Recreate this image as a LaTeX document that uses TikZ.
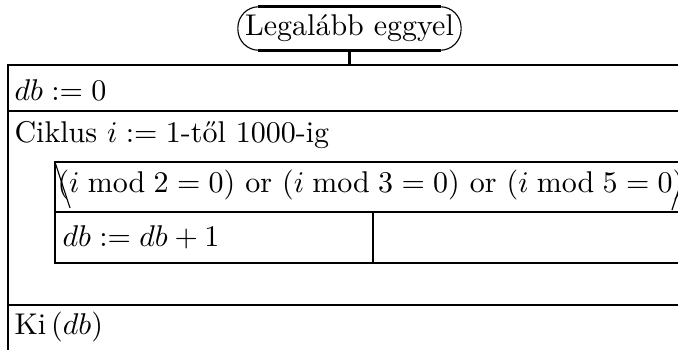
\RequirePackage{fix-cm}
\documentclass[tikz,border=0pt]{standalone}
\usepackage{amsmath}
\begin{document}
\begin{tikzpicture}[x=0.3584pt,y=-0.3584pt,
  every node/.style={font=\fontsize{10.75}{12.8}\selectfont},
  thickline/.style={line width=0.9pt},
  thinline/.style={line width=0.4pt},
  lbl/.style={anchor=west,inner sep=0pt}]
\useasboundingbox (0,0) rectangle (678,350);
\clip (0,0) rectangle (678,350);
% start terminal
\node[inner sep=0pt,minimum width=79.6pt,minimum height=15.2pt] (start) at (349.5,28.5) {Legalább eggyel};
\draw[thinline,rounded corners=7.5pt] (start.north west) rectangle (start.south east);
\draw[thickline] ([xshift=7.2pt]start.north west) -- ([xshift=-7.2pt]start.north east);
\draw[thickline] ([xshift=7.2pt]start.south west) -- ([xshift=-7.2pt]start.south east);
\coordinate (mtop) at (start.south |- 0,65);
\draw[thickline] (start.south) -- (mtop);
% outer box
\coordinate (otl) at (8,65);
\coordinate (otr) at (700,65);
\coordinate (obl) at (8,370);
\draw[thickline] (otr) -- (otl) -- (obl);
\coordinate (r1l) at (8,111);
\coordinate (r1r) at (700,111);
\draw[thickline] (r1l) -- (r1r);
\coordinate (r2l) at (8,305);
\coordinate (r2r) at (700,305);
\draw[thickline] (r2l) -- (r2r);
% inner box
\coordinate (itl) at (55,162);
\coordinate (itr) at (700,162);
\coordinate (iml) at (55,212);
\coordinate (imr) at (700,212);
\coordinate (ibl) at (55,263);
\coordinate (ibr) at (700,263);
\coordinate (dvt) at (373,212);
\coordinate (dvb) at (373,263);
\draw[thickline] (itr) -- (itl) -- (ibl) -- (ibr);
\draw[thickline] (iml) -- (imr);
\draw[thickline] (dvt) -- (dvb);
\coordinate (dl1) at (70,208);
\coordinate (dr0) at (672,210);
\coordinate (dr1) at (688,162);
\draw[thinline] (itl) -- (dl1);
\draw[thinline] (dr0) -- (dr1);
% texts
\node[lbl] (t1) at (14,90) {$db := 0$};
\node[lbl] (t2) at (14,135) {Ciklus $i := 1$-től 1000-ig};
\node[lbl] (t3) at (57,185) {$(i \bmod 2 = 0)$ or $(i \bmod 3 = 0)$ or $(i \bmod 5 = 0)$};
\node[lbl] (t4) at (62,237) {$db := db + 1$};
\node[lbl] (t5) at (14,327) {Ki\,($db$)};
\end{tikzpicture}
\end{document}
